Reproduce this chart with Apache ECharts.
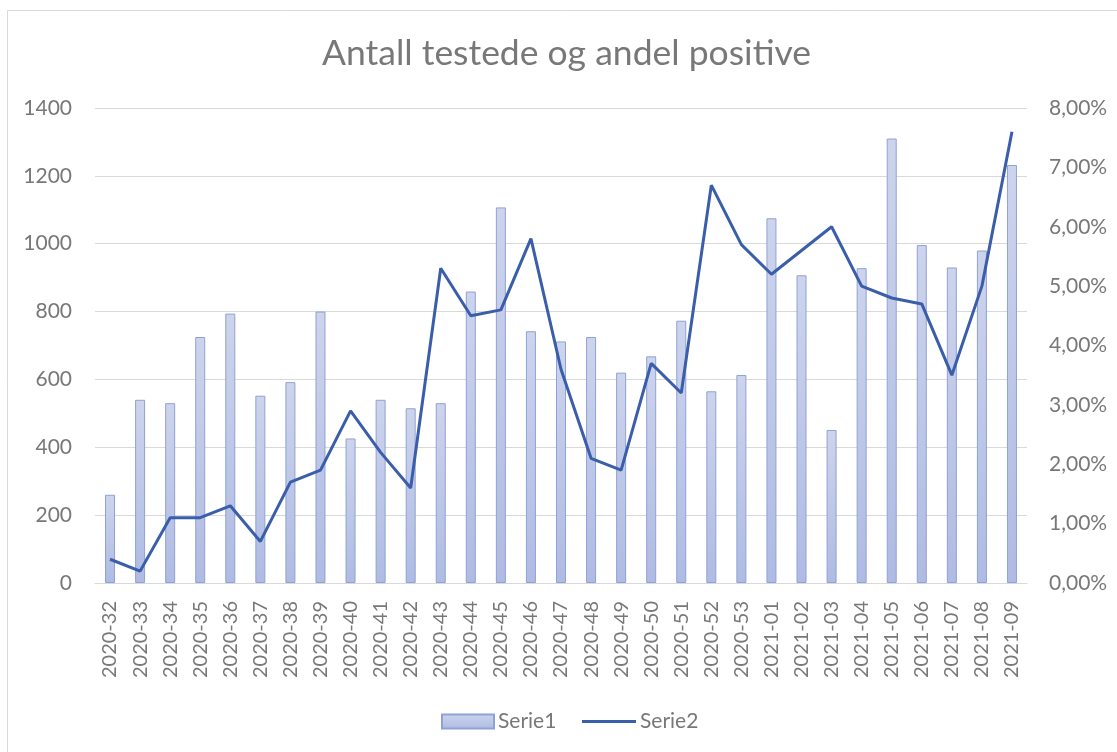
<!DOCTYPE html>
<html>
<head>
<meta charset="utf-8">
<script src="https://cdn.jsdelivr.net/npm/echarts@6/dist/echarts.min.js"></script>
<style>
html,body{margin:0;padding:0;background:#fff;}
#chart{width:1117px;height:752px;}
</style>
</head>
<body>
<div id="chart"></div>
<script>
const categories = ['2020-32','2020-33','2020-34','2020-35','2020-36','2020-37','2020-38','2020-39','2020-40','2020-41','2020-42','2020-43','2020-44','2020-45','2020-46','2020-47','2020-48','2020-49','2020-50','2020-51','2020-52','2020-53','2021-01','2021-02','2021-03','2021-04','2021-05','2021-06','2021-07','2021-08','2021-09'];
const serie1 = [260,540,530,725,794,552,592,800,426,540,515,530,859,1107,742,712,725,620,668,773,565,613,1075,907,451,928,1310,996,930,980,1232];
const serie2 = [0.4,0.2,1.1,1.1,1.3,0.7,1.7,1.9,2.9,2.2,1.6,5.3,4.5,4.6,5.8,3.6,2.1,1.9,3.7,3.2,6.7,5.7,5.2,5.6,6.0,5.0,4.8,4.7,3.5,5.0,7.6];
const titleText = 'Antall testede og andel positive';

const FONT = 'Lato';
const TXT = '#787878';
const chart = echarts.init(document.getElementById('chart'));
chart.setOption({
  backgroundColor: '#fff',
  animation: false,
  title: {
    text: titleText, left: 317, top: 31,
    textStyle: {fontFamily: FONT, fontSize: 35.5, fontWeight: 'normal', color: TXT}
  },
  graphic: [
    {type: 'line', shape: {x1: 7.5, y1: 10.5, x2: 1117, y2: 10.5}, style: {stroke: '#d9d9d9', lineWidth: 1}},
    {type: 'line', shape: {x1: 7.5, y1: 10.5, x2: 7.5, y2: 752}, style: {stroke: '#d9d9d9', lineWidth: 1}}
  ],
  legend: [
    {
      left: 436, top: 706, itemGap: 0,
      itemWidth: 52, itemHeight: 14,
      textStyle: {fontFamily: FONT, fontSize: 21, color: TXT, padding: [0,0,0,-1]},
      data: [{name: 'Serie1', icon: 'rect'}]
    },
    {
      left: 577, top: 706, itemGap: 0,
      itemWidth: 54, itemHeight: 3,
      textStyle: {fontFamily: FONT, fontSize: 21, color: TXT, padding: [0,0,0,-1]},
      data: [{name: 'Serie2', icon: 'rect', itemStyle: {color: '#3a5ea9'}}]
    }
  ],
  grid: {left: 95, right: 90, top: 108, bottom: 169},
  xAxis: {
    type: 'category', data: categories,
    axisLine: {lineStyle: {color: '#d9d9d9', width: 1}},
    axisTick: {show: false},
    axisLabel: {rotate: 90, interval: 0, margin: 18, fontFamily: FONT, fontSize: 20, color: TXT}
  },
  yAxis: [
    {
      type: 'value', min: 0, max: 1400, interval: 200,
      axisLine: {show: false}, axisTick: {show: false},
      splitLine: {lineStyle: {color: '#d9d9d9', width: 1}},
      axisLabel: {margin: 23, fontFamily: FONT, fontSize: 21, color: TXT, formatter: v => String(v)}
    },
    {
      type: 'value', min: 0, max: 8, interval: 1,
      axisLine: {show: false}, axisTick: {show: false},
      splitLine: {show: false},
      axisLabel: {margin: 22, fontFamily: FONT, fontSize: 21, color: TXT,
        formatter: v => v.toFixed(2).replace('.', ',') + '%'}
    }
  ],
  series: [
    {
      name: 'Serie1', type: 'bar', data: serie1, barWidth: 10,
      itemStyle: {
        color: new echarts.graphic.LinearGradient(0, 0, 0, 1, [
          {offset: 0, color: '#cdd4ec'}, {offset: 1, color: '#afbbe3'}
        ]),
        borderColor: '#8fa2d5', borderWidth: 1
      }
    },
    {
      name: 'Serie2', type: 'line', yAxisIndex: 1, data: serie2,
      symbol: 'none', showSymbol: false,
      lineStyle: {color: '#3a5ea9', width: 3},
      itemStyle: {color: '#3a5ea9'}
    }
  ]
});
</script>
</body>
</html>
